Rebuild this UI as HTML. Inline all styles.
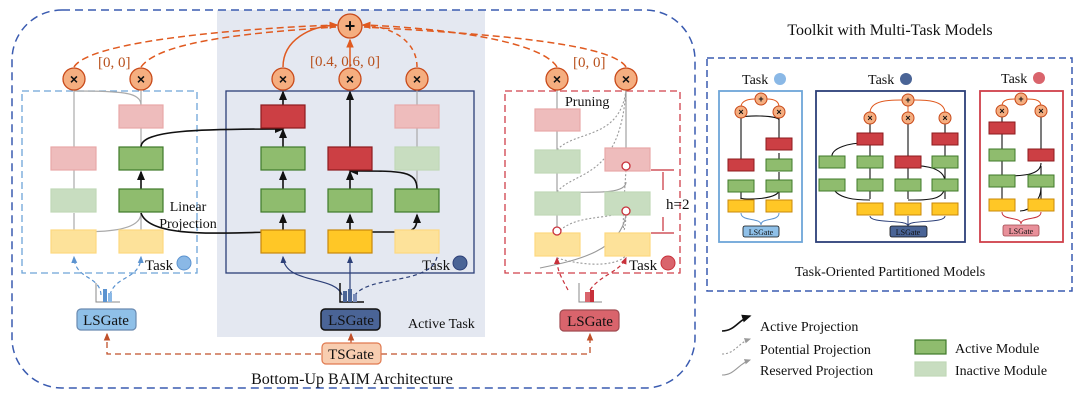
<!DOCTYPE html>
<html><head><meta charset="utf-8"><style>
html,body{margin:0;padding:0;background:#fff;}
svg{display:block;}
text{font-family:"Liberation Serif",serif;fill:#111;}
</style></head><body>
<svg width="1080" height="400" viewBox="0 0 1080 400" xmlns="http://www.w3.org/2000/svg">
<defs>
<marker id="ab" markerWidth="6" markerHeight="6" refX="5" refY="3" orient="auto"><path d="M0,0.5 L6,3 L0,5.5z" fill="#111"/></marker>
<marker id="ag" markerWidth="6" markerHeight="6" refX="5" refY="3" orient="auto"><path d="M0,0.5 L6,3 L0,5.5z" fill="#999"/></marker>
<marker id="ao" markerWidth="6" markerHeight="6" refX="5" refY="3" orient="auto"><path d="M0,0.5 L6,3 L0,5.5z" fill="#e05a20"/></marker>
<marker id="an" markerWidth="6" markerHeight="6" refX="5" refY="3" orient="auto"><path d="M0,0.5 L6,3 L0,5.5z" fill="#2c3f78"/></marker>
<marker id="alb" markerWidth="6" markerHeight="6" refX="5" refY="3" orient="auto"><path d="M0,0.5 L6,3 L0,5.5z" fill="#5b93d0"/></marker>
<marker id="ar" markerWidth="6" markerHeight="6" refX="5" refY="3" orient="auto"><path d="M0,0.5 L6,3 L0,5.5z" fill="#c8303a"/></marker>
<marker id="abr" markerWidth="6" markerHeight="6" refX="5" refY="3" orient="auto"><path d="M0,0.5 L6,3 L0,5.5z" fill="#c0502a"/></marker>
</defs>

<rect x="217" y="10" width="268" height="327" fill="#e4e8f1"/>
<rect x="12" y="10" width="683" height="378" rx="50" fill="none" stroke="#3a5bb0" stroke-width="1.5" stroke-dasharray="8,5"/>

<rect x="22" y="91" width="175" height="182" fill="none" stroke="#6ea5d8" stroke-width="1.3" stroke-dasharray="7,4"/>
<rect x="226" y="91" width="248" height="182" fill="none" stroke="#2c3f78" stroke-width="1.3"/>
<rect x="505" y="91" width="175" height="182" fill="none" stroke="#d0404a" stroke-width="1.3" stroke-dasharray="7,4"/>

<g fill="none" stroke="#e05a20" stroke-width="1.5">
<path d="M74,67 C90,40 250,28 336,25" stroke-dasharray="7,4"/>
<path d="M141,67 C160,40 260,32 336,27" stroke-dasharray="7,4"/>
<path d="M283,67 C283,40 310,26 337,25" marker-end="url(#ao)"/>
<path d="M350,67 L350,40" marker-end="url(#ao)"/>
<path d="M417,67 C417,40 390,26 363,25" stroke-dasharray="5,4" marker-end="url(#ao)"/>
<path d="M557,67 C540,40 440,28 364,25" stroke-dasharray="7,4"/>
<path d="M626,67 C610,40 450,32 364,27" stroke-dasharray="7,4"/>
</g>

<g fill="none" stroke="#aaa" stroke-width="1.2">
<path d="M74,90 L74,147"/><path d="M74,170 L74,189"/><path d="M74,213 L74,230"/>
<path d="M74,91 C120,91 141,92 141,105"/>
<path d="M141,91 L141,105"/><path d="M141,128 L141,147"/>
<path d="M74,232 L74,230 M74,232 C100,232 141,232 141,213"/>
<path d="M141,213 L141,230"/>
<path d="M417,90 L417,105"/><path d="M417,128 L417,147"/><path d="M417,170 L417,189"/>
</g>
<g fill="none" stroke="#111" stroke-width="1.6">
<path d="M141,189 L141,172" marker-end="url(#ab)"/>
<path d="M141,147 C141,130 200,129 283,129" marker-end="url(#ab)"/>
<path d="M141,213 C150,240 230,232 283,232 L283,215" marker-end="url(#ab)"/>
<path d="M283,189 L283,172" marker-end="url(#ab)"/>
<path d="M283,147 L283,130" marker-end="url(#ab)"/>
<path d="M283,105 L283,92" marker-end="url(#ab)"/>
<path d="M350,147 L350,92" marker-end="url(#ab)"/>
<path d="M350,189 L350,172" marker-end="url(#ab)"/>
<path d="M350,230 L350,215" marker-end="url(#ab)"/>
<path d="M417,189 C417,170 400,171 350,171" marker-end="url(#ab)"/>
<path d="M350,232 L400,232 C417,232 417,225 417,215" marker-end="url(#ab)"/>
</g>

<g fill="none" stroke="#999" stroke-width="1.1">
<path d="M557,90 L557,109"/><path d="M557,131 L557,150"/><path d="M557,173 L557,192"/><path d="M557,215 L557,233"/>
<path d="M626,90 L626,170"/>
<path d="M557,192 C590,192 626,195 626,182" />
<path d="M540,268 C580,260 620,250 626,215"/>
</g>
<g fill="none" stroke="#999" stroke-width="1.1" stroke-dasharray="2,2">
<path d="M557,150 C575,130 620,140 626,90"/>
<path d="M557,192 C575,170 620,180 626,90"/>
<path d="M557,233 C575,215 600,220 626,212"/>
<path d="M626,212 C626,230 620,255 626,170"/>
<path d="M557,258 C590,268 620,265 626,255"/>
</g>

<g stroke-width="1.2">
<rect x="119" y="105" width="44" height="23" fill="#eebcbc" stroke="#e8a8a8"/>
<rect x="51" y="147" width="45" height="23" fill="#eebcbc" stroke="#e8a8a8"/>
<rect x="119" y="147" width="44" height="23" fill="#8fbc6e" stroke="#3f7a2a"/>
<rect x="51" y="189" width="45" height="23" fill="#c8ddc0" stroke="#c0d8b8"/>
<rect x="119" y="189" width="44" height="23" fill="#8fbc6e" stroke="#3f7a2a"/>
<rect x="51" y="230" width="45" height="23" fill="#fde29a" stroke="#fdd880"/>
<rect x="119" y="230" width="44" height="23" fill="#fde29a" stroke="#fdd880"/>
<rect x="261" y="105" width="44" height="23" fill="#cc3f44" stroke="#8e1b1e"/>
<rect x="395" y="105" width="44" height="23" fill="#eebcbc" stroke="#e8a8a8"/>
<rect x="261" y="147" width="44" height="23" fill="#8fbc6e" stroke="#3f7a2a"/>
<rect x="328" y="147" width="44" height="23" fill="#cc3f44" stroke="#8e1b1e"/>
<rect x="395" y="147" width="44" height="23" fill="#c8ddc0" stroke="#c0d8b8"/>
<rect x="261" y="189" width="44" height="23" fill="#8fbc6e" stroke="#3f7a2a"/>
<rect x="328" y="189" width="44" height="23" fill="#8fbc6e" stroke="#3f7a2a"/>
<rect x="395" y="189" width="44" height="23" fill="#8fbc6e" stroke="#3f7a2a"/>
<rect x="261" y="230" width="44" height="23" fill="#ffc726" stroke="#c8880a"/>
<rect x="328" y="230" width="44" height="23" fill="#ffc726" stroke="#c8880a"/>
<rect x="395" y="230" width="44" height="23" fill="#fde29a" stroke="#fdd880"/>
<rect x="535" y="109" width="45" height="22" fill="#eebcbc" stroke="#e8a8a8"/>
<rect x="535" y="150" width="45" height="23" fill="#c8ddc0" stroke="#c0d8b8"/>
<rect x="605" y="148" width="45" height="23" fill="#eebcbc" stroke="#e8a8a8"/>
<rect x="535" y="192" width="45" height="23" fill="#c8ddc0" stroke="#c0d8b8"/>
<rect x="605" y="192" width="45" height="23" fill="#c8ddc0" stroke="#c0d8b8"/>
<rect x="535" y="233" width="45" height="23" fill="#fde29a" stroke="#fdd880"/>
<rect x="605" y="233" width="45" height="23" fill="#fde29a" stroke="#fdd880"/>
</g>
<g fill="#fff" stroke="#c8303a" stroke-width="1.3">
<circle cx="626" cy="166" r="4"/><circle cx="626" cy="211" r="4"/><circle cx="557" cy="231" r="4"/>
</g>
<g stroke="#c8303a" stroke-width="1.2" fill="none">
<path d="M651,170 L674,170 M651,233 L674,233"/>
<path d="M663,172 L663,190 M663,217 L663,231"/>
</g>
<text x="666" y="209" font-size="15">h=2</text>
<text x="565" y="106" font-size="14">Pruning</text>

<g fill="#f5ae80" stroke="#c84a1a" stroke-width="1.3">
<circle cx="74" cy="79" r="11"/><circle cx="141" cy="79" r="11"/>
<circle cx="283" cy="79" r="11"/><circle cx="350" cy="79" r="11"/><circle cx="417" cy="79" r="11"/>
<circle cx="557" cy="79" r="11"/><circle cx="626" cy="79" r="11"/>
<circle cx="350" cy="26" r="12"/>
</g>
<g font-size="14" font-weight="bold" text-anchor="middle">
<text x="74" y="84" style="font-family:'Liberation Sans',sans-serif">×</text>
<text x="141" y="84" style="font-family:'Liberation Sans',sans-serif">×</text>
<text x="283" y="84" style="font-family:'Liberation Sans',sans-serif">×</text>
<text x="350" y="84" style="font-family:'Liberation Sans',sans-serif">×</text>
<text x="417" y="84" style="font-family:'Liberation Sans',sans-serif">×</text>
<text x="557" y="84" style="font-family:'Liberation Sans',sans-serif">×</text>
<text x="626" y="84" style="font-family:'Liberation Sans',sans-serif">×</text>
<text x="350" y="32" font-size="18" style="font-family:'Liberation Sans',sans-serif">+</text>
</g>
<g font-size="15">
<text x="98" y="67" style="fill:#b8501c">[0, 0]</text>
<text x="310" y="66" style="fill:#b8501c">[0.4, 0.6, 0]</text>
<text x="573" y="67" style="fill:#b8501c">[0, 0]</text>
</g>
<text x="188" y="211" font-size="14" text-anchor="middle">Linear</text>
<text x="188" y="228" font-size="14" text-anchor="middle">Projection</text>

<text x="145" y="270" font-size="15">Task</text><circle cx="184" cy="263" r="7" fill="#8ab8e6" stroke="#5b93d0"/>
<text x="422" y="270" font-size="15">Task</text><circle cx="460" cy="263" r="7" fill="#4a6496" stroke="#2c3f78"/>
<text x="629" y="270" font-size="15">Task</text><circle cx="668" cy="263" r="7" fill="#d9646c" stroke="#c8303a"/>

<g fill="none" stroke-width="1.2" stroke-dasharray="4,3">
<path d="M101,295 C100,275 75,280 74,257" stroke="#5b93d0" marker-end="url(#alb)"/>
<path d="M110,295 C115,275 140,280 141,257" stroke="#5b93d0" marker-end="url(#alb)"/>
<path d="M437,257 C430,285 370,275 355,295" stroke="#2c3f78"/>
<path d="M568,290 C560,275 557,270 557,258" stroke="#c8303a" marker-end="url(#ar)"/>
<path d="M590,290 C600,275 620,272 626,258" stroke="#c8303a" marker-end="url(#ar)"/>
</g>
<g fill="none" stroke-width="1.2">
<path d="M342,295 C335,275 285,285 283,257" stroke="#2c3f78" marker-end="url(#an)"/>
<path d="M350,295 L350,257" stroke="#2c3f78" marker-end="url(#an)"/>
</g>
<g>
<path d="M96,283 L96,302 L120,302" fill="none" stroke="#888" stroke-width="1"/>
<rect x="103" y="289" width="4" height="13" fill="#5b93d0"/><rect x="108" y="293" width="4" height="9" fill="#8ab8e6"/>
<path d="M340,283 L340,302 L364,302" fill="none" stroke="#111" stroke-width="1.5"/>
<rect x="343" y="291" width="4" height="11" fill="#4a6496"/><rect x="348" y="289" width="4" height="13" fill="#4a6496"/><rect x="353" y="294" width="4" height="8" fill="#7a8cb8"/>
<path d="M579,283 L579,302 L602,302" fill="none" stroke="#888" stroke-width="1"/>
<rect x="585" y="292" width="5" height="10" fill="#d9646c"/><rect x="590" y="290" width="4" height="12" fill="#c8303a"/>
</g>

<rect x="77" y="309" width="59" height="21" rx="4" fill="#8fc0e8" stroke="#6a8ab0" stroke-width="1.2"/>
<text x="106" y="325" font-size="15" text-anchor="middle">LSGate</text>
<rect x="321" y="309" width="59" height="21" rx="4" fill="#4a6496" stroke="#111" stroke-width="1.5"/>
<text x="351" y="325" font-size="15" text-anchor="middle">LSGate</text>
<rect x="560" y="310" width="59" height="21" rx="4" fill="#d9646c" stroke="#a04a50" stroke-width="1.2"/>
<text x="590" y="326" font-size="15" text-anchor="middle">LSGate</text>
<text x="408" y="328" font-size="14">Active Task</text>
<g fill="none" stroke="#c0502a" stroke-width="1.3" stroke-dasharray="6,4">
<path d="M321,354 L107,354 L107,334" marker-end="url(#abr)"/>
<path d="M381,354 L590,354 L590,334" marker-end="url(#abr)"/>
</g>
<path d="M351,343 L351,334" stroke="#c0502a" stroke-width="1.3" marker-end="url(#abr)"/>
<rect x="322" y="343" width="59" height="21" rx="4" fill="#f8cdb0" stroke="#e07a50" stroke-width="1.2"/>
<text x="351" y="359" font-size="15" text-anchor="middle">TSGate</text>
<text x="352" y="384" font-size="16" text-anchor="middle">Bottom-Up BAIM Architecture</text>

<text x="890" y="35" font-size="16" text-anchor="middle">Toolkit with Multi-Task Models</text>
<rect x="707" y="58" width="365" height="233" fill="none" stroke="#3a5bb0" stroke-width="1.5" stroke-dasharray="7,4"/>
<text x="890" y="276" font-size="14" text-anchor="middle">Task-Oriented Partitioned Models</text>

<text x="742" y="84" font-size="14">Task</text><circle cx="780" cy="79" r="6" fill="#8ab8e6"/>
<text x="868" y="84" font-size="14">Task</text><circle cx="906" cy="79" r="6" fill="#4a6496"/>
<text x="1001" y="83" font-size="14">Task</text><circle cx="1039" cy="78" r="6" fill="#d9646c"/>

<rect x="719" y="91" width="83" height="151" fill="none" stroke="#6ea5d8" stroke-width="1.8"/>
<rect x="816" y="91" width="149" height="151" fill="none" stroke="#2c3f78" stroke-width="1.8"/>
<rect x="980" y="91" width="83" height="151" fill="none" stroke="#d0404a" stroke-width="1.8"/>

<g fill="none" stroke="#111" stroke-width="1.1">
<path d="M741,164 L741,118 M779,143 L779,118 M741,199 L741,185 M779,199 L779,172 M779,164 L779,153"/>
<path d="M741,118 C741,115 779,115 779,120"/>
<path d="M741,199 L741,198 C741,200 779,200 779,190"/>
<path d="M870,199 L870,124 M908,199 L908,124 M945,199 L945,124"/>
<path d="M832,158 C830,148 850,142 870,143"/>
<path d="M832,185 C835,200 860,200 870,200"/>
<path d="M908,166 C915,165 945,165 945,182"/>
<path d="M908,200 C930,200 945,200 945,185"/>
<path d="M1002,200 L1002,117 M1041,152 L1041,117 M1041,200 L1041,166"/>
<path d="M1002,176 C1020,176 1041,176 1041,163"/>
<path d="M1020,211 C1030,211 1041,200 1041,188"/>
</g>
<g fill="none" stroke="#e05a20" stroke-width="1">
<path d="M741,107 C741,100 750,99 755,99 M779,107 C779,100 772,99 767,99"/>
<path d="M870,113 C870,100 890,100 902,100 M908,113 L908,106 M945,113 C945,100 925,100 914,100"/>
<path d="M1002,106 C1002,99 1010,99 1015,99 M1041,106 C1041,99 1032,99 1027,99"/>
</g>
<g stroke-width="1">
<rect x="766" y="138" width="26" height="12" fill="#cc3f44" stroke="#8e1b1e"/>
<rect x="728" y="159" width="26" height="12" fill="#cc3f44" stroke="#8e1b1e"/>
<rect x="766" y="159" width="26" height="12" fill="#8fbc6e" stroke="#3f7a2a"/>
<rect x="728" y="180" width="26" height="12" fill="#8fbc6e" stroke="#3f7a2a"/>
<rect x="766" y="180" width="26" height="12" fill="#8fbc6e" stroke="#3f7a2a"/>
<rect x="728" y="200" width="26" height="12" fill="#ffc726" stroke="#c8880a"/>
<rect x="766" y="200" width="26" height="12" fill="#ffc726" stroke="#c8880a"/>

<rect x="857" y="133" width="26" height="12" fill="#cc3f44" stroke="#8e1b1e"/>
<rect x="932" y="133" width="26" height="12" fill="#cc3f44" stroke="#8e1b1e"/>
<rect x="819" y="156" width="26" height="12" fill="#8fbc6e" stroke="#3f7a2a"/>
<rect x="857" y="156" width="26" height="12" fill="#8fbc6e" stroke="#3f7a2a"/>
<rect x="895" y="156" width="26" height="12" fill="#cc3f44" stroke="#8e1b1e"/>
<rect x="932" y="156" width="26" height="12" fill="#8fbc6e" stroke="#3f7a2a"/>
<rect x="819" y="179" width="26" height="12" fill="#8fbc6e" stroke="#3f7a2a"/>
<rect x="857" y="179" width="26" height="12" fill="#8fbc6e" stroke="#3f7a2a"/>
<rect x="895" y="179" width="26" height="12" fill="#8fbc6e" stroke="#3f7a2a"/>
<rect x="932" y="179" width="26" height="12" fill="#8fbc6e" stroke="#3f7a2a"/>
<rect x="857" y="203" width="26" height="12" fill="#ffc726" stroke="#c8880a"/>
<rect x="895" y="203" width="26" height="12" fill="#ffc726" stroke="#c8880a"/>
<rect x="932" y="203" width="26" height="12" fill="#ffc726" stroke="#c8880a"/>

<rect x="989" y="122" width="26" height="12" fill="#cc3f44" stroke="#8e1b1e"/>
<rect x="989" y="149" width="26" height="12" fill="#8fbc6e" stroke="#3f7a2a"/>
<rect x="1028" y="149" width="26" height="12" fill="#cc3f44" stroke="#8e1b1e"/>
<rect x="989" y="175" width="26" height="12" fill="#8fbc6e" stroke="#3f7a2a"/>
<rect x="1028" y="175" width="26" height="12" fill="#8fbc6e" stroke="#3f7a2a"/>
<rect x="989" y="199" width="26" height="12" fill="#ffc726" stroke="#c8880a"/>
<rect x="1028" y="199" width="26" height="12" fill="#ffc726" stroke="#c8880a"/>
</g>
<g fill="#f5ae80" stroke="#c84a1a" stroke-width="1">
<circle cx="741" cy="112" r="6"/><circle cx="779" cy="112" r="6"/><circle cx="761" cy="99" r="6"/>
<circle cx="870" cy="118" r="6"/><circle cx="908" cy="118" r="6"/><circle cx="945" cy="118" r="6"/><circle cx="908" cy="100" r="6"/>
<circle cx="1002" cy="111" r="6"/><circle cx="1041" cy="111" r="6"/><circle cx="1021" cy="99" r="6"/>
</g>
<g font-size="9" font-weight="bold" text-anchor="middle">
<text x="741" y="115" style="font-family:'Liberation Sans',sans-serif">×</text><text x="779" y="115" style="font-family:'Liberation Sans',sans-serif">×</text><text x="761" y="102" style="font-family:'Liberation Sans',sans-serif">+</text>
<text x="870" y="121" style="font-family:'Liberation Sans',sans-serif">×</text><text x="908" y="121" style="font-family:'Liberation Sans',sans-serif">×</text><text x="945" y="121" style="font-family:'Liberation Sans',sans-serif">×</text><text x="908" y="103" style="font-family:'Liberation Sans',sans-serif">+</text>
<text x="1002" y="114" style="font-family:'Liberation Sans',sans-serif">×</text><text x="1041" y="114" style="font-family:'Liberation Sans',sans-serif">×</text><text x="1021" y="102" style="font-family:'Liberation Sans',sans-serif">+</text>
</g>
<g fill="none" stroke-width="1">
<path d="M741,213 C741,222 761,217 761,225 C761,217 779,222 779,213" stroke="#5b93d0"/>
<path d="M870,216 C870,224 908,219 908,226 C908,219 945,224 945,216 M908,216 L908,226" stroke="#2c3f78"/>
<path d="M1002,212 C1002,221 1021,216 1021,224 C1021,216 1041,221 1041,212" stroke="#c8303a"/>
</g>
<rect x="743" y="226" width="36" height="11" rx="2" fill="#8fc0e8" stroke="#111" stroke-width="0.8"/>
<text x="761" y="235" font-size="8" text-anchor="middle">LSGate</text>
<rect x="890" y="226" width="37" height="11" rx="2" fill="#4a6496" stroke="#111" stroke-width="0.8"/>
<text x="908" y="235" font-size="8" text-anchor="middle">LSGate</text>
<rect x="1003" y="225" width="36" height="11" rx="2" fill="#e8909a" stroke="#a04a50" stroke-width="0.8"/>
<text x="1021" y="234" font-size="8" text-anchor="middle">LSGate</text>

<path d="M722,331 C735,331 738,320 750,316" fill="none" stroke="#111" stroke-width="1.6" marker-end="url(#ab)"/>
<text x="760" y="331" font-size="14">Active Projection</text>
<path d="M722,354 C735,354 738,343 750,339" fill="none" stroke="#999" stroke-width="1.1" stroke-dasharray="2,2" marker-end="url(#ag)"/>
<text x="760" y="354" font-size="14">Potential Projection</text>
<path d="M722,375 C735,375 738,364 750,360" fill="none" stroke="#999" stroke-width="1.1" marker-end="url(#ag)"/>
<text x="760" y="375" font-size="14">Reserved Projection</text>
<rect x="915" y="340" width="31" height="14" fill="#8fbc6e" stroke="#3f7a2a" stroke-width="1.2"/>
<text x="955" y="353" font-size="14">Active Module</text>
<rect x="915" y="362" width="31" height="14" fill="#c8ddc0" stroke="#c0d8b8" stroke-width="1.2"/>
<text x="955" y="375" font-size="14">Inactive Module</text>
</svg>
</body></html>
